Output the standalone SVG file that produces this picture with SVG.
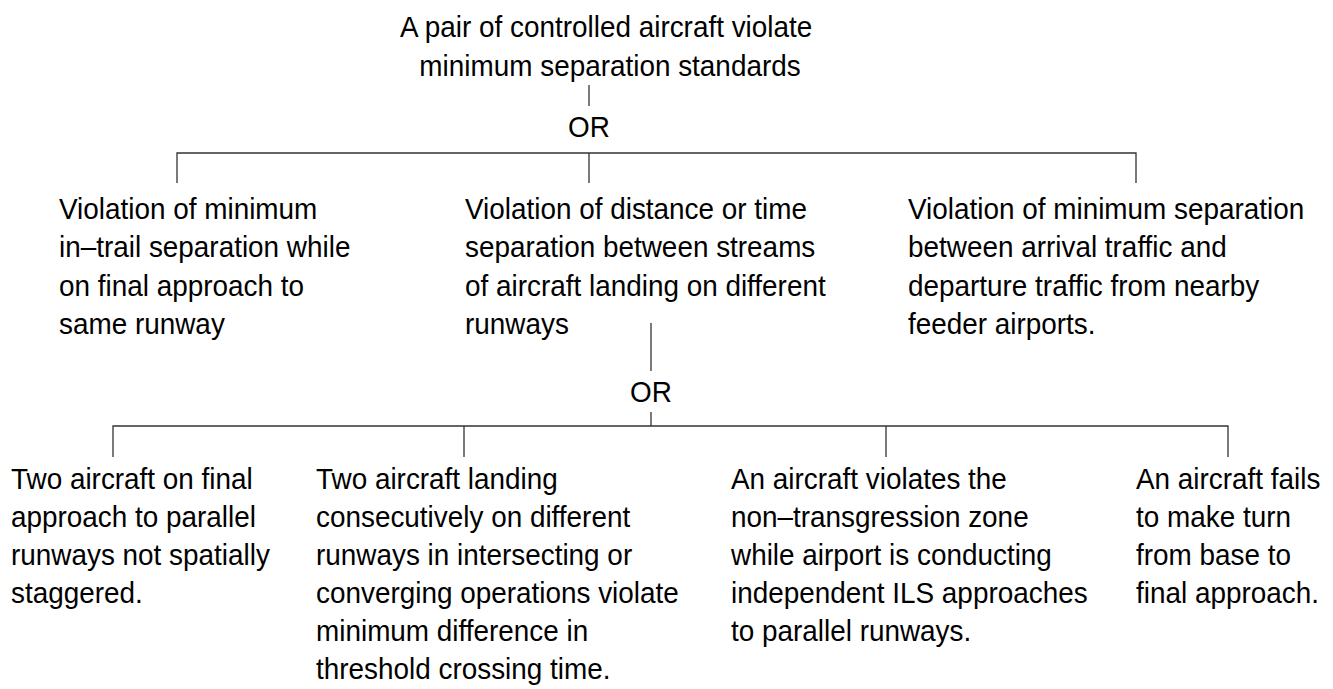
<svg xmlns="http://www.w3.org/2000/svg" width="1333" height="689" viewBox="0 0 1333 689">
  <style>
    .t { font-family: "Liberation Sans", Arial, sans-serif; font-size: 30px; fill: #000; }
    .c { text-anchor: middle; }
    .ln { stroke: #333; stroke-width: 1.3; fill: none; }
  </style>

  <!-- connectors -->
  <g id="connectors">
    <path class="ln" d="M589 85 V106"/>
    <path class="ln" d="M177 183 V153 H1136 V183 M589 153 V183"/>
    <path class="ln" d="M651 323 V371"/>
    <path class="ln" d="M651 412 V426"/>
    <path class="ln" d="M113 457 V426 H1228 V457 M464 426 V457 M886 426 V457"/>
  </g>

  <!-- gates -->
  <g id="gate-or-1">
    <text class="t c" transform="translate(589,137) scale(0.93,1)" x="0" y="0">OR</text>
  </g>
  <g id="gate-or-2">
    <text class="t c" transform="translate(651,402) scale(0.93,1)" x="0" y="0">OR</text>
  </g>

  <!-- top event -->
  <g id="top-event">
    <text class="t c" transform="translate(610,37) scale(0.93,1)">
      <tspan x="0" y="0">A pair of controlled aircraft violate</tspan>
      <tspan x="0" y="39">minimum separation standards</tspan>
    </text>
  </g>

  <!-- second level -->
  <g id="node-in-trail">
    <text class="t" transform="translate(59,219) scale(0.93,1)">
      <tspan x="0" y="0">Violation of minimum</tspan>
      <tspan x="0" y="38.5">in–trail separation while</tspan>
      <tspan x="0" y="77">on final approach to</tspan>
      <tspan x="0" y="115.5">same runway</tspan>
    </text>
  </g>
  <g id="node-streams">
    <text class="t" transform="translate(465,219) scale(0.93,1)">
      <tspan x="0" y="0">Violation of distance or time</tspan>
      <tspan x="0" y="38.5">separation between streams</tspan>
      <tspan x="0" y="77">of aircraft landing on different</tspan>
      <tspan x="0" y="115.5">runways</tspan>
    </text>
  </g>
  <g id="node-feeder">
    <text class="t" transform="translate(908,219) scale(0.93,1)">
      <tspan x="0" y="0">Violation of minimum separation</tspan>
      <tspan x="0" y="38.5">between arrival traffic and</tspan>
      <tspan x="0" y="77">departure traffic from nearby</tspan>
      <tspan x="0" y="115.5">feeder airports.</tspan>
    </text>
  </g>

  <!-- third level -->
  <g id="node-stagger">
    <text class="t" transform="translate(11,489) scale(0.93,1)">
      <tspan x="0" y="0">Two aircraft on final</tspan>
      <tspan x="0" y="38">approach to parallel</tspan>
      <tspan x="0" y="76">runways not spatially</tspan>
      <tspan x="0" y="114">staggered.</tspan>
    </text>
  </g>
  <g id="node-threshold">
    <text class="t" transform="translate(316,489) scale(0.93,1)">
      <tspan x="0" y="0">Two aircraft landing</tspan>
      <tspan x="0" y="38">consecutively on different</tspan>
      <tspan x="0" y="76">runways in intersecting or</tspan>
      <tspan x="0" y="114">converging operations violate</tspan>
      <tspan x="0" y="152">minimum difference in</tspan>
      <tspan x="0" y="190">threshold crossing time.</tspan>
    </text>
  </g>
  <g id="node-ntz">
    <text class="t" transform="translate(731,489) scale(0.93,1)">
      <tspan x="0" y="0">An aircraft violates the</tspan>
      <tspan x="0" y="38">non–transgression zone</tspan>
      <tspan x="0" y="76">while airport is conducting</tspan>
      <tspan x="0" y="114">independent ILS approaches</tspan>
      <tspan x="0" y="152">to parallel runways.</tspan>
    </text>
  </g>
  <g id="node-turn">
    <text class="t" transform="translate(1136,489) scale(0.93,1)">
      <tspan x="0" y="0">An aircraft fails</tspan>
      <tspan x="0" y="38">to make turn</tspan>
      <tspan x="0" y="76">from base to</tspan>
      <tspan x="0" y="114">final approach.</tspan>
    </text>
  </g>
</svg>
